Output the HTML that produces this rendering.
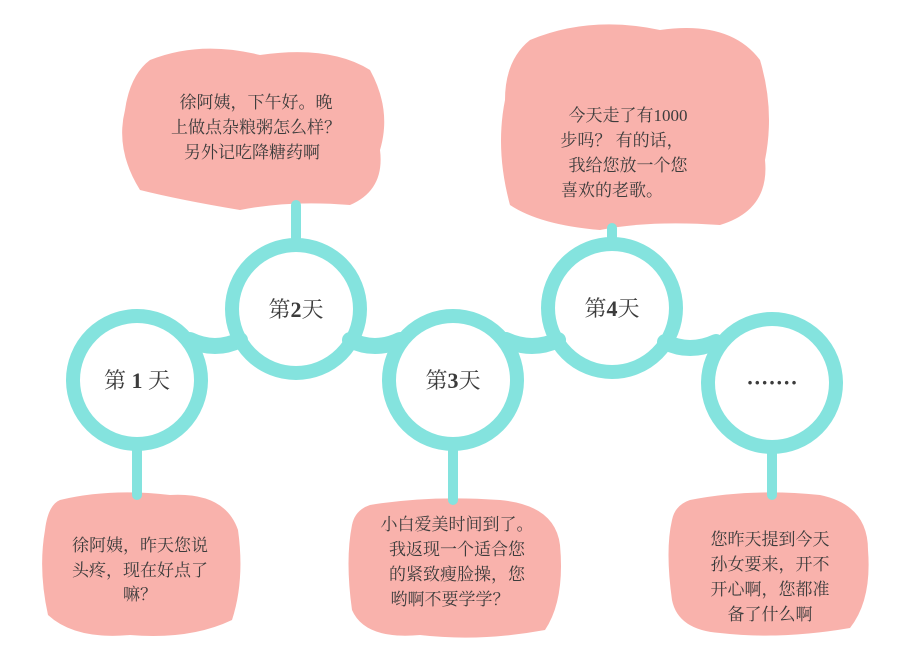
<!DOCTYPE html>
<html><head><meta charset="utf-8"><style>
body{margin:0;background:#fff;}
svg{display:block}
text{font-family:"Liberation Serif","Noto Serif CJK SC",serif;fill:#3c3c3c}
.b{font-size:17px;text-anchor:middle}
.c{font-size:22px;text-anchor:middle}
</style></head><body>
<svg width="918" height="656" viewBox="0 0 918 656" xmlns="http://www.w3.org/2000/svg">
<g fill="#f9b2ac">
<path d="M150 60 Q200 40 260 55 Q330 45 370 70 Q392 110 380 150 Q385 190 350 205 Q290 200 240 210 Q180 200 140 190 Q115 150 125 110 Q130 75 150 60Z"/>
<path d="M530 40 Q590 15 660 30 Q730 20 760 60 Q775 110 765 160 Q770 210 720 225 Q650 220 600 230 Q540 225 510 205 Q495 150 505 100 Q505 60 530 40Z"/>
<path d="M60 500 Q110 488 170 495 Q225 492 238 530 Q245 580 232 620 Q190 640 130 635 Q75 640 48 615 Q38 570 45 530 Q48 505 60 500Z"/>
<path d="M370 505 Q430 495 500 500 Q555 505 560 545 Q565 600 545 630 Q480 642 420 635 Q365 640 352 610 Q345 560 352 525 Q355 510 370 505Z"/>
<path d="M690 500 Q750 488 820 495 Q868 505 868 550 Q872 600 850 628 Q780 640 720 633 Q678 630 672 600 Q665 550 672 520 Q675 505 690 500Z"/>
</g>
<g stroke="#84e3de" fill="none" stroke-linecap="round">
<g stroke-width="10">
<line x1="296" y1="205" x2="296" y2="245"/>
<line x1="612" y1="228" x2="612" y2="245"/>
<line x1="137" y1="445" x2="137" y2="495"/>
<line x1="453" y1="445" x2="453" y2="500"/>
<line x1="772" y1="448" x2="772" y2="495"/>
</g>
<path stroke-width="16" d="M190 340 Q215 352 240 340 M350 340 Q375 352 400 340 M506 340 Q532 352 558 340 M665 342 Q690 354 716 342"/>
<g stroke-width="14">
<circle cx="137" cy="380" r="64"/>
<circle cx="296" cy="309" r="64"/>
<circle cx="453" cy="380" r="64"/>
<circle cx="612" cy="308" r="64"/>
<circle cx="772" cy="383" r="64"/>
</g>
</g>
<text class="c" x="137" y="388">第 <tspan font-weight="bold">1</tspan> 天</text>
<text class="c" x="296" y="317">第<tspan font-weight="bold">2</tspan>天</text>
<text class="c" x="453" y="388">第<tspan font-weight="bold">3</tspan>天</text>
<text class="c" x="612" y="316">第<tspan font-weight="bold">4</tspan>天</text>
<text class="c" x="772" y="390" font-weight="bold">·······</text>
<text class="b" x="256" y="108">徐阿姨，下午好。晚</text>
<text class="b" x="256" y="133">上做点杂粮粥怎么样？</text>
<text class="b" x="252" y="158">另外记吃降糖药啊</text>
<text class="b" x="628" y="121">今天走了有1000</text>
<text class="b" x="622" y="146">步吗？ 有的话，</text>
<text class="b" x="628" y="171">我给您放一个您</text>
<text class="b" x="612" y="196">喜欢的老歌。</text>
<text class="b" x="140" y="551">徐阿姨，昨天您说</text>
<text class="b" x="140" y="576">头疼，现在好点了</text>
<text class="b" x="140" y="600">嘛？</text>
<text class="b" x="457" y="530">小白爱美时间到了。</text>
<text class="b" x="457" y="555">我返现一个适合您</text>
<text class="b" x="457" y="580">的紧致瘦脸操，您</text>
<text class="b" x="450" y="605">哟啊不要学学？</text>
<text class="b" x="770" y="545">您昨天提到今天</text>
<text class="b" x="770" y="570">孙女要来，开不</text>
<text class="b" x="770" y="595">开心啊，您都准</text>
<text class="b" x="770" y="620">备了什么啊</text>
</svg>
</body></html>
